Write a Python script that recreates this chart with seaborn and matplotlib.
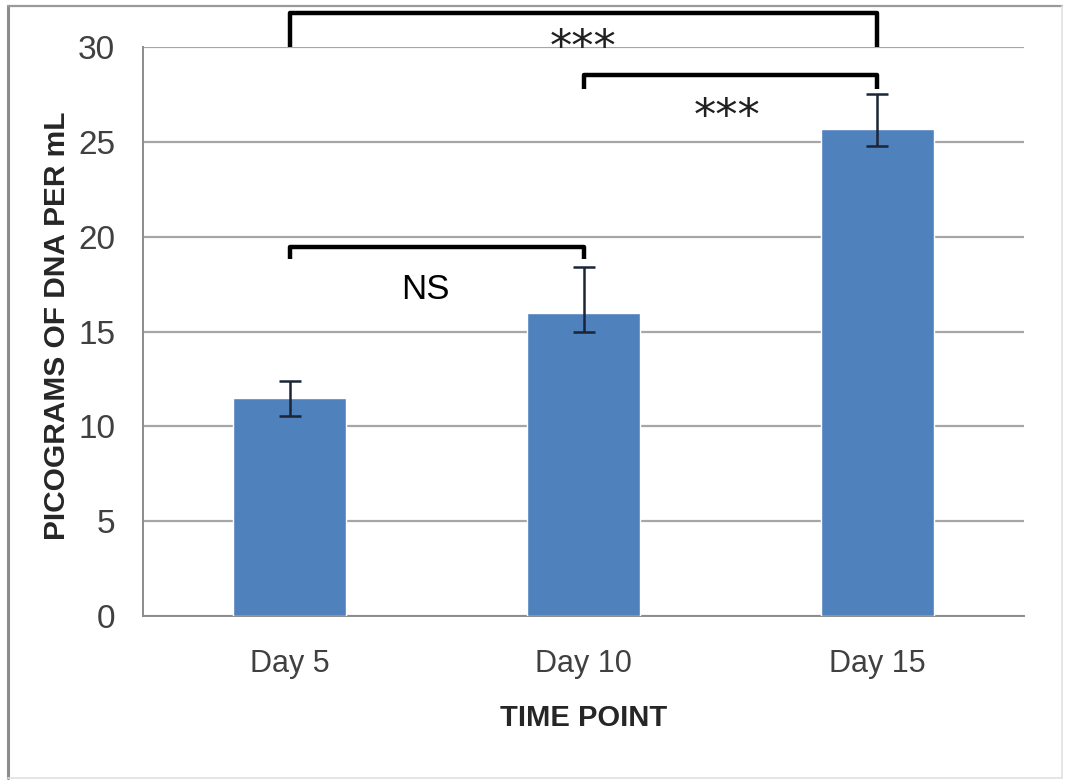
"""
bar chart of DNA concentration per time point with significance brackets
"""

import matplotlib
matplotlib.use("Agg")
import matplotlib.pyplot as plt
from matplotlib.lines import Line2D
import seaborn as sns
import pandas as pd

# values
days = ['Day 5', 'Day 10', 'Day 15']
dna_pg_per_ml = [11.5, 16.0, 25.7]
err_low = [0.95, 1.0, 0.9]
err_high = [0.9, 2.4, 1.8]

# significance brackets: (left category, right category, bar height, leg bottom, label)
bracket_left = [0, 1, 0]
bracket_right = [1, 2, 2]
bracket_top = [19.45, 28.5, 31.8]
bracket_leg = [18.8, 27.8, 30.0]
bracket_text = ['NS', '***', '***']
text_x = [0.46, 1.49, 1.0]
text_y = [17.2, 26.3, 29.9]

yticks = [0, 5, 10, 15, 20, 25, 30]

bar_color = '#4F81BD'
grid_color = '#A6A6A6'


def make_chart():
    sns.set_style('white')
    plt.rcParams['font.family'] = ['Liberation Sans Narrow', 'Liberation Sans', 'DejaVu Sans']

    fig = plt.figure(figsize=(10.7, 7.8), dpi=100)
    ax = fig.add_axes([143 / 1070, 1 - 616 / 780, 881 / 1070, 569 / 780])

    df = pd.DataFrame({'day': days, 'value': dna_pg_per_ml})
    sns.barplot(data=df, x='day', y='value', color=bar_color, saturation=1,
                width=0.385, ax=ax, zorder=3)

    ax.errorbar(range(len(days)), dna_pg_per_ml, yerr=[err_low, err_high],
                fmt='none', ecolor='#1a2535', elinewidth=1.8, capsize=8,
                capthick=1.8, zorder=4)

    ax.set_xlim(-0.5, 2.5)
    ax.set_ylim(0, 30)
    ax.set_yticks(yticks)
    ax.yaxis.grid(True, color=grid_color, linewidth=1.6, zorder=0)
    ax.set_axisbelow(True)

    for side in ['top', 'right']:
        ax.spines[side].set_visible(False)
    for side in ['left', 'bottom']:
        ax.spines[side].set_color('#8C8C8C')
        ax.spines[side].set_linewidth(1.4)

    ax.tick_params(axis='y', which='major', length=10, width=1.4, color='#8C8C8C',
                   labelsize=24, pad=10, labelcolor='#404040')
    ax.tick_params(axis='x', which='major', length=0, labelsize=22, pad=24,
                   labelcolor='#404040')
    ax.set_xticks([-0.5, 0.5, 1.5, 2.5], minor=True)
    ax.tick_params(axis='x', which='minor', length=10, width=1.4, color='#8C8C8C')

    ax.set_xlabel('TIME POINT', fontsize=21, fontweight='bold',
                  family=['Liberation Sans', 'DejaVu Sans'])
    ax.set_ylabel('PICOGRAMS OF DNA PER mL', fontsize=21.5, fontweight='bold',
                  family=['Liberation Sans', 'DejaVu Sans'])
    ax.xaxis.set_label_coords(0.5, -0.155)
    ax.yaxis.set_label_coords(-0.082, 0.51)

    # significance brackets drawn above the bars
    for i in range(len(bracket_text)):
        x1, x2 = bracket_left[i], bracket_right[i]
        ax.plot([x1, x1, x2, x2],
                [bracket_leg[i], bracket_top[i], bracket_top[i], bracket_leg[i]],
                color='black', linewidth=3.2, solid_joinstyle='round',
                solid_capstyle='butt', clip_on=False, zorder=5)
        if bracket_text[i] == 'NS':
            ax.text(text_x[i], text_y[i], bracket_text[i], ha='center', va='center',
                    fontsize=25, family=['Liberation Sans', 'DejaVu Sans'],
                    color='black', zorder=6)
        else:
            ax.text(text_x[i], text_y[i], bracket_text[i], ha='center', va='center',
                    fontsize=32, family=['DejaVu Sans'], color='#202020', zorder=6)

    # chart border like the exported excel frame
    fig.add_artist(Line2D([8 / 1070, 8 / 1070], [1 - 6 / 780, 1 - 778 / 780],
                          color='#8C8C8C', linewidth=2.2))
    fig.add_artist(Line2D([8 / 1070, 1062 / 1070], [1 - 6 / 780, 1 - 6 / 780],
                          color='#9A9A9A', linewidth=1.6))
    fig.add_artist(Line2D([1062 / 1070, 1062 / 1070], [1 - 6 / 780, 1 - 778 / 780],
                          color='#E0E0E0', linewidth=1.2))
    fig.add_artist(Line2D([8 / 1070, 1062 / 1070], [1 - 778 / 780, 1 - 778 / 780],
                          color='#E0E0E0', linewidth=1.2))

    fig.savefig('out.png', dpi=100, facecolor='white')


if __name__ == "__main__":
    make_chart()
